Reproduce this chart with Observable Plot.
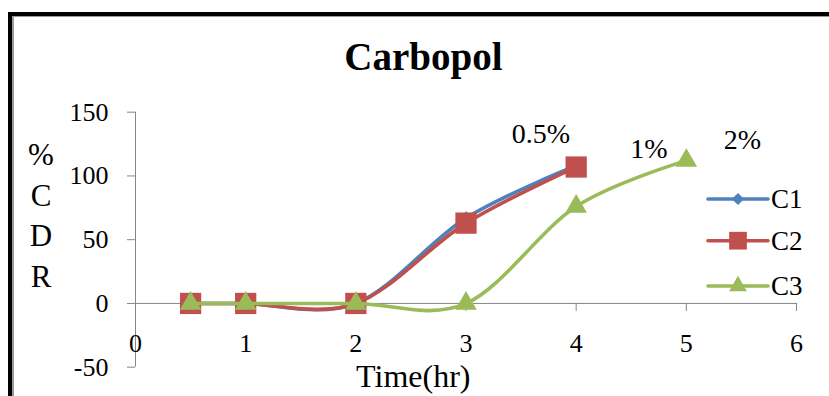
<!DOCTYPE html>
<html><head><meta charset="utf-8">
<script src="https://cdn.jsdelivr.net/npm/d3@7"></script>
<script src="https://cdn.jsdelivr.net/npm/@observablehq/plot@0.6"></script>
<style>
body{margin:0;background:#fff;}
#wrap{position:relative;width:829px;height:396px;overflow:hidden;background:#fff;font-family:"Liberation Serif","Times New Roman",serif;}
#wrap svg{display:block;}
#wrap svg text{font-family:"Liberation Serif","Times New Roman",serif !important;}
#overlay{position:absolute;left:0;top:0;}
</style></head><body><div id="wrap"></div>
<script>
const chartTitle = "Carbopol";
const xLabel = "Time(hr)";
const yLabelChars = ["%", "C", "D", "R"];
const seriesNames = ["C1", "C2", "C3"];
const seriesColors = ["#4F81BD", "#C0504D", "#9BBB59"];
const seriesSymbols = ["diamond2", "square", "triangle"];
const timeC1 = [0.5, 1, 2, 3, 4];
const cdrC1 = [0, 0, 0, 67, 108];
const timeC2 = [0.5, 1, 2, 3, 4];
const cdrC2 = [0, 0, 0, 63, 107];
const timeC3 = [0.5, 1, 2, 3, 4, 5];
const cdrC3 = [0, 0, 0, 0, 76, 112];
const xTicks = [0, 1, 2, 3, 4, 5, 6];
const yTicks = [-50, 0, 50, 100, 150];
const noteLabels = ["0.5%", "1%", "2%"];
const noteTime = [3.68, 4.66, 5.51];
const noteCdr = [126, 114, 121];

const FONT = "Liberation Serif";
const GREY = "#868686";
const times = [timeC1, timeC2, timeC3];
const cdrs = [cdrC1, cdrC2, cdrC3];
const markerR = [6, 12, 8];
const legendR = [5.5, 10, 6.6];

const series = times.map((t, s) => t.map((x, i) => ({x, y: cdrs[s][i]})));
const notes = noteLabels.map((text, i) => ({text, x: noteTime[i], y: noteCdr[i]}));

const seriesMarks = series.flatMap((data, s) => [
  Plot.line(data, {x: "x", y: "y", stroke: seriesColors[s], strokeWidth: 3.6, curve: "cardinal"}),
  Plot.dot(data, {x: "x", y: "y", symbol: seriesSymbols[s], r: markerR[s], fill: seriesColors[s], stroke: "none"})
]);

const chart = Plot.plot({
  width: 829,
  height: 396,
  marginLeft: 135,
  marginRight: 33,
  marginTop: 111.7,
  marginBottom: 29.3,
  style: {fontFamily: FONT, background: "transparent", color: "#000"},
  x: {domain: [0, 6], axis: null},
  y: {domain: [-50, 150], axis: null},
  marks: [
    Plot.ruleX([0], {stroke: GREY, strokeWidth: 1}),
    Plot.ruleY([0], {stroke: GREY, strokeWidth: 1}),
    Plot.ruleX(xTicks.slice(1), {x: d => d, y1: 0, y2: 0, insetBottom: -8, stroke: GREY}),
    Plot.text(xTicks, {x: d => d, y: 0, text: d => String(d), dy: 48.7, lineAnchor: "bottom", fontSize: 26, fontFamily: FONT, fill: "#000"}),
    Plot.axisY({ticks: yTicks, tickSize: 8, tickPadding: 19, fontSize: 26, fontFamily: FONT, stroke: GREY, label: null, tickFormat: d => String(d), fill: "#000"}),
    ...seriesMarks,
    Plot.text(notes, {x: "x", y: "y", text: "text", lineAnchor: "bottom", fontSize: 28, fontFamily: FONT, fill: "#000", letterSpacing: "1px"})
  ]
});

const wrap = document.getElementById("wrap");
wrap.appendChild(chart);

// overlay: frame, title, axis label, legend
const ov = d3.select(wrap).append("svg").attr("id", "overlay").attr("width", 829).attr("height", 396)
  .attr("font-family", FONT);
ov.append("rect").attr("x", 13).attr("y", 16).attr("width", 900).attr("height", 500)
  .attr("fill", "none").attr("stroke", "#9a9a9a").attr("stroke-width", 2);
ov.append("rect").attr("x", 10).attr("y", 14).attr("width", 900).attr("height", 500)
  .attr("fill", "none").attr("stroke", "#000").attr("stroke-width", 4);
ov.append("text").attr("x", 423.4).attr("y", 70).attr("text-anchor", "middle")
  .attr("font-size", 39).attr("font-weight", "bold").text(chartTitle);
ov.append("text").attr("x", 413.3).attr("y", 386.7).attr("text-anchor", "middle")
  .attr("font-size", 32).text(xLabel);
yLabelChars.forEach((c, i) => {
  ov.append("text").attr("x", 41).attr("y", 165 + i * 40.5).attr("text-anchor", "middle")
    .attr("font-size", 31).text(c);
});
const legendY = [199, 240.7, 286];
seriesNames.forEach((name, s) => {
  const g = ov.append("g").attr("transform", `translate(0,${legendY[s]})`);
  g.append("line").attr("x1", 708).attr("x2", 768).attr("y1", 0).attr("y2", 0)
    .attr("stroke", seriesColors[s]).attr("stroke-width", 3.6).attr("stroke-linecap", "round");
  const sym = {diamond2: d3.symbolDiamond2, square: d3.symbolSquare, triangle: d3.symbolTriangle}[seriesSymbols[s]];
  g.append("path").attr("transform", "translate(738,0)")
    .attr("d", d3.symbol(sym, Math.PI * legendR[s] * legendR[s])()).attr("fill", seriesColors[s]);
  g.append("text").attr("x", 771).attr("y", 0).attr("dy", "0.34em").attr("font-size", 27).text(name);
});
</script></body></html>
